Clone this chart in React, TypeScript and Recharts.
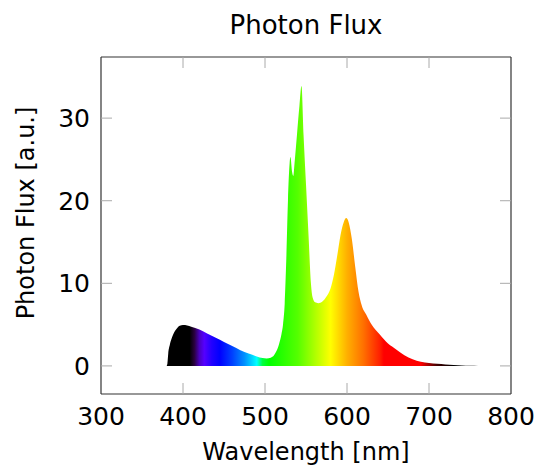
import { AreaChart, Area, XAxis, YAxis, ReferenceLine } from 'recharts';

// wavelength [nm] and photon flux [a.u.]
const wavelength = [
  380, 381, 382, 384, 386, 388, 390, 393, 396, 400, 405, 410, 420, 430, 440, 450, 460, 470, 480, 490,
  497, 502, 507, 511, 514, 517, 520, 522, 524, 526, 528, 530, 531, 533, 534.5, 536, 539, 542, 544.5, 547,
  550, 553, 556, 558, 561, 565, 570, 575, 580, 584, 588, 592, 596, 599, 602, 606, 610, 614, 618, 624,
  630, 640, 650, 660, 670, 680, 690, 700, 710, 720, 730, 740, 750, 760,
];
const flux = [
  0, 0.3, 1.5, 2.6, 3.3, 3.8, 4.2, 4.6, 4.85, 4.95, 4.9, 4.75, 4.4, 3.9, 3.4, 2.9, 2.4, 1.9, 1.5, 1.15,
  0.95, 0.9, 1.0, 1.3, 1.8, 2.6, 3.8, 5.0, 7.5, 13, 20, 24.5, 25.3, 23.5, 23.0, 24.5, 28, 31.5, 33.9, 28,
  22, 16, 10, 8.3, 7.7, 7.6, 7.8, 8.4, 9.4, 11, 13.3, 15.8, 17.4, 17.9, 17.4, 15.3, 12, 9, 7.3, 6.1,
  5.0, 3.8, 2.7, 2.0, 1.3, 0.8, 0.5, 0.35, 0.25, 0.17, 0.11, 0.06, 0.03, 0,
];

// colour of the fill along the wavelength axis
const stopWavelength = [380, 408, 414, 420, 426, 435, 445, 460, 475, 490, 497, 505, 540, 560, 580, 600, 620, 640, 645, 690, 710, 730, 760];
const stopColor = [
  '#000000', '#000000', '#2a0040', '#4a00c0', '#5500ff', '#2200ff', '#0000ff', '#0040ff', '#0090ff', '#00ffff',
  '#00ff40', '#00ff00', '#55ff00', '#aaff00', '#ffff00', '#ffb000', '#ff7000', '#ff2000', '#ff0000', '#ff0000',
  '#400000', '#000000', '#000000',
];

const xTicks = [300, 400, 500, 600, 700, 800];
const yTicks = [0, 10, 20, 30];

const data = wavelength.map((wl, i) => ({ wl, flux: flux[i] }));
const wlMin = wavelength[0];
const wlMax = wavelength[wavelength.length - 1];

const W = 538;
const H = 468;
const margin = { top: 57, right: 27, bottom: 0, left: 0 };
const xAxisHeight = 74;
const yAxisWidth = 101;
const plotTop = margin.top;
const plotBottom = H - margin.bottom - xAxisHeight;
const plotLeft = margin.left + yAxisWidth;
const plotRight = W - margin.right;
const tickLen = 11;

const font = 'DejaVu Sans, Verdana, sans-serif';
const frame = '#333';
const tickColor = '#aaa';
const xDomain: [number, number] = [300, 800];
const yDomain: [number, number] = [-3.4, 37.4];

// ticks point inward and are mirrored on the opposite side of the frame
function XTick({ x, payload }: any) {
  const inner = payload.value !== xDomain[0] && payload.value !== xDomain[1];
  return (
    <g>
      {inner && <line x1={x} x2={x} y1={plotBottom} y2={plotBottom - tickLen} stroke={tickColor} />}
      {inner && <line x1={x} x2={x} y1={plotTop} y2={plotTop + tickLen} stroke={tickColor} />}
      <text x={x} y={plotBottom + 30.5} textAnchor="middle" fontSize={25} fontFamily={font} fill="#000">
        {payload.value}
      </text>
    </g>
  );
}

function YTick({ y, payload }: any) {
  return (
    <g>
      <line x1={plotLeft} x2={plotLeft + tickLen} y1={y} y2={y} stroke={tickColor} />
      <line x1={plotRight} x2={plotRight - tickLen} y1={y} y2={y} stroke={tickColor} />
      <text x={plotLeft - 11} y={y + 9} textAnchor="end" fontSize={25} fontFamily={font} fill="#000">
        {payload.value}
      </text>
    </g>
  );
}

export default function App() {
  return (
    <div style={{ position: 'fixed', left: 0, top: 0, width: W, height: H, background: '#fff' }}>
      <AreaChart width={W} height={H} data={data} margin={margin}>
        <defs>
          <linearGradient id="spectrum" x1="0" y1="0" x2="1" y2="0">
            {stopWavelength.map((wl, i) => (
              <stop key={i} offset={(wl - wlMin) / (wlMax - wlMin)} stopColor={stopColor[i]} />
            ))}
          </linearGradient>
        </defs>
        <XAxis
          dataKey="wl"
          type="number"
          domain={xDomain}
          ticks={xTicks}
          height={xAxisHeight}
          axisLine={{ stroke: frame, strokeWidth: 1.2 }}
          tickLine={false}
          tickSize={0}
          tickMargin={0}
          tick={<XTick />}
          interval={0}
        />
        <YAxis
          type="number"
          domain={yDomain}
          ticks={yTicks}
          width={yAxisWidth}
          axisLine={{ stroke: frame, strokeWidth: 1.2 }}
          tickLine={false}
          tickSize={0}
          tickMargin={0}
          tick={<YTick />}
          interval={0}
        />
        <Area
          type="monotone"
          dataKey="flux"
          baseValue={0}
          stroke="none"
          fill="url(#spectrum)"
          fillOpacity={1}
          isAnimationActive={false}
        />
        <ReferenceLine y={yDomain[1]} stroke={frame} strokeWidth={1.2} />
        <ReferenceLine x={xDomain[1]} stroke={frame} strokeWidth={1.2} />
      </AreaChart>
      <svg width={W} height={H} style={{ position: 'absolute', left: 0, top: 0, pointerEvents: 'none' }}>
        <text x={(plotLeft + plotRight) / 2} y={34} textAnchor="middle" fontSize={26} fontFamily={font} fill="#000">
          Photon Flux
        </text>
        <text x={(plotLeft + plotRight) / 2} y={460} textAnchor="middle" fontSize={24} fontFamily={font} fill="#000">
          Wavelength [nm]
        </text>
        <text x={34} y={213} textAnchor="middle" fontSize={24} fontFamily={font} fill="#000" transform="rotate(-90 34 213)">
          Photon Flux [a.u.]
        </text>
      </svg>
    </div>
  );
}
